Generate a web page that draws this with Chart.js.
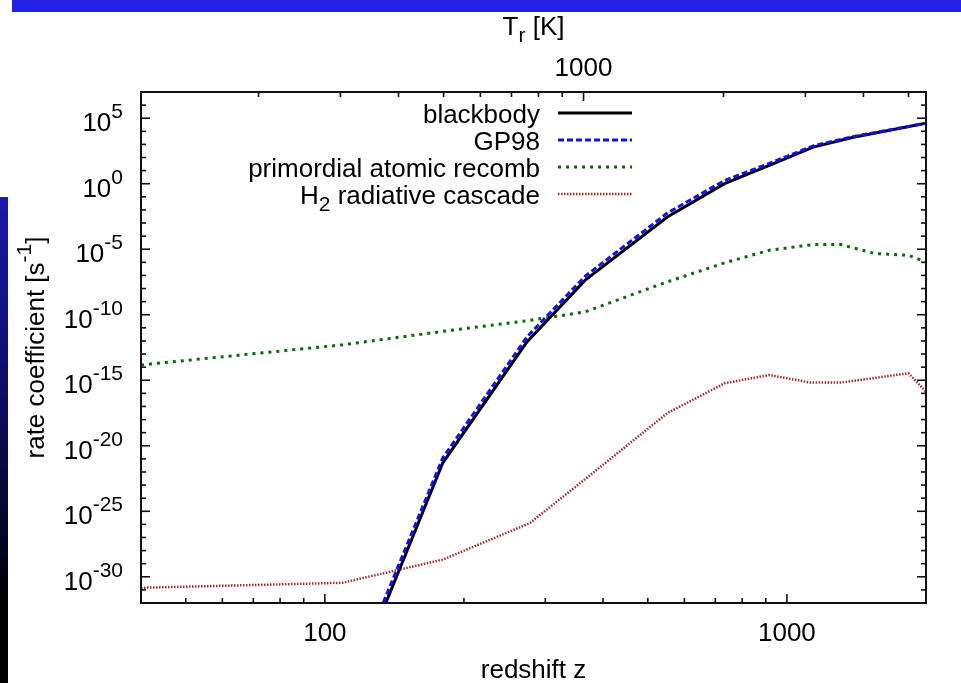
<!DOCTYPE html>
<html>
<head>
<meta charset="utf-8">
<script src="https://cdn.jsdelivr.net/npm/chart.js@4.4.1/dist/chart.umd.min.js"></script>
<style>
  html, body { margin:0; padding:0; background:#fff; }
  #wrap { position:relative; width:961px; height:683px; overflow:hidden; }
  canvas { position:absolute; left:0; top:0; }
  #topbar { position:absolute; left:12px; top:0; width:949px; height:12px; background:#2222e4; }
  #sidebar { position:absolute; left:0; top:197px; width:8px; height:486px;
             background:linear-gradient(#1a1aa6, #0c0c5a 45%, #000 85%); }
</style>
</head>
<body>
<div id="wrap">
  <canvas id="chart" width="961" height="683"></canvas>
  <div id="topbar"></div>
  <div id="sidebar"></div>
</div>
<script>
// ---- values: redshift z and log10(rate coefficient / s^-1) ----
const zBB   = [109, 180, 274, 366, 551, 733, 916, 1140, 1393, 2000];
const logBB = [-40.2, -21.3, -12.06, -7.36, -2.54, 0.0, 1.4, 2.79, 3.55, 4.62];
const logGP = [-39.6, -20.92, -11.68, -7.06, -2.24, 0.25, 1.55, 2.89, 3.6, 4.62];

const zAt   = [40, 109, 180, 274, 366, 551, 733, 916, 1140, 1306, 1550, 1833, 2000];
const logAt = [-13.83, -12.3, -11.27, -10.46, -9.78, -7.49, -6.04, -5.08, -4.64, -4.64, -5.33, -5.46, -5.97];

const zH2   = [40, 109, 180, 278, 366, 551, 733, 916, 1125, 1306, 1833, 2000];
const logH2 = [-30.84, -30.46, -28.69, -25.89, -22.54, -17.51, -15.23, -14.6, -15.18, -15.18, -14.47, -15.87];

const seriesLabels = ["blackbody", "GP98", "primordial atomic recomb", "H_{2} radiative cascade"];
const xTickLabels = [100, 1000];          // redshift z
const tTickLabels = [1000];               // T_r [K] (top axis)
const yTickExps = [5, 0, -5, -10, -15, -20, -25, -30];
const T0 = 2.725;                         // T_r = T0 (1+z)

const FONT = '"Liberation Sans", Arial, Helvetica, sans-serif';
const FS = 26;
const pts = (zs, logs) => zs.map((z, i) => ({ x: z, y: Math.pow(10, logs[i]) }));

// text with _{sub} and ^{sup}
function parts(str) {
  const out = [], re = /([_^])\{([^}]*)\}/g;
  let last = 0, m;
  while ((m = re.exec(str))) {
    if (m.index > last) out.push({ t: str.slice(last, m.index), m: 0 });
    out.push({ t: m[2], m: m[1] === '_' ? -1 : 1 });
    last = re.lastIndex;
  }
  if (last < str.length) out.push({ t: str.slice(last), m: 0 });
  return out;
}
function drawRich(ctx, str, x, y, align, size) {
  const small = Math.round(size * 0.8);
  const ps = parts(str);
  let w = 0;
  ps.forEach(p => { ctx.font = (p.m ? small : size) + 'px ' + FONT; p.w = ctx.measureText(p.t).width; w += p.w; });
  let cx = align === 'right' ? x - w : align === 'center' ? x - w / 2 : x;
  ctx.textAlign = 'left';
  ctx.textBaseline = 'alphabetic';
  ps.forEach(p => {
    ctx.font = (p.m ? small : size) + 'px ' + FONT;
    const dy = p.m === 1 ? -size * 0.5 : p.m === -1 ? size * 0.26 : 0;
    ctx.fillText(p.t, cx, y + dy);
    cx += p.w;
  });
}

const framePlugin = {
  id: 'frame',
  afterDraw(chart) {
    const { ctx, chartArea: a, scales } = chart;
    const x = scales.x, y = scales.y, t = scales.t;
    ctx.save();
    ctx.strokeStyle = '#111';
    ctx.fillStyle = '#000';
    ctx.lineWidth = 1.6;
    const tick = (x1, y1, x2, y2) => { ctx.beginPath(); ctx.moveTo(x1, y1); ctx.lineTo(x2, y2); ctx.stroke(); };

    // y ticks: every decade, big every 5
    for (let e = Math.ceil(Math.log10(y.min)); e <= Math.floor(Math.log10(y.max)); e++) {
      const py = y.getPixelForValue(Math.pow(10, e));
      const L = e % 5 === 0 ? 9 : 5;
      tick(a.left, py, a.left + L, py);
      tick(a.right, py, a.right - L, py);
    }
    // log ticks on bottom (z) and top (T) axes
    const logTicks = (sc, yEdge, dir) => {
      for (let k = Math.floor(Math.log10(sc.min)); k <= Math.ceil(Math.log10(sc.max)); k++) {
        for (let m = 1; m <= 9; m++) {
          const v = m * Math.pow(10, k);
          if (v <= sc.min * 1.001 || v >= sc.max * 0.999) continue;
          const px = sc.getPixelForValue(v);
          tick(px, yEdge, px, yEdge + dir * (m === 1 ? 9 : 5));
        }
      }
    };
    logTicks(x, a.bottom, -1);
    logTicks(t, a.top, 1);

    ctx.lineWidth = 2;
    ctx.strokeRect(a.left, a.top, a.right - a.left, a.bottom - a.top);

    // tick labels
    yTickExps.forEach(e => {
      const py = y.getPixelForValue(Math.pow(10, e));
      drawRich(ctx, '10^{' + e + '}', a.left - 18, py + 13, 'right', FS);
    });
    xTickLabels.forEach(v => drawRich(ctx, String(v), x.getPixelForValue(v), a.bottom + 38, 'center', FS));
    tTickLabels.forEach(v => drawRich(ctx, String(v), t.getPixelForValue(v), a.top - 16, 'center', FS));

    // axis titles
    const cxm = (a.left + a.right) / 2;
    drawRich(ctx, 'redshift z', cxm, a.bottom + 75, 'center', FS);
    drawRich(ctx, 'T_{r} [K]', cxm, a.top - 57, 'center', FS);
    ctx.save();
    ctx.translate(a.left - 97, (a.top + a.bottom) / 2);
    ctx.rotate(-Math.PI / 2);
    drawRich(ctx, 'rate coefficient [s^{-1}]', 0, 0, 'center', FS);
    ctx.restore();

    // key (top right inside the frame)
    chart.data.datasets.forEach((ds, i) => {
      const ly = a.top + 21 + i * 27;
      drawRich(ctx, ds.label, a.right - 386, ly + 10, 'right', FS);
      ctx.save();
      ctx.strokeStyle = ds.borderColor;
      ctx.lineWidth = ds.borderWidth;
      ctx.setLineDash(ds.borderDash || []);
      tick(a.right - 368, ly, a.right - 294, ly);
      ctx.restore();
    });
    ctx.restore();
  }
};

new Chart(document.getElementById('chart'), {
  type: 'line',
  data: {
    datasets: [
      { label: seriesLabels[0], data: pts(zBB, logBB), borderColor: '#000', borderWidth: 3, order: 1 },
      { label: seriesLabels[1], data: pts(zBB, logGP), borderColor: '#1010f0', borderWidth: 3, borderDash: [6, 3], order: 0 },
      { label: seriesLabels[2], data: pts(zAt, logAt), borderColor: '#0a6a0a', borderWidth: 3, borderDash: [3, 5], order: 2 },
      { label: seriesLabels[3], data: pts(zH2, logH2), borderColor: '#a82828', borderWidth: 2.5, borderDash: [1.5, 1.5], order: 3 }
    ]
  },
  options: {
    responsive: false,
    animation: false,
    events: [],
    clip: 0,
    layout: { padding: { left: 141, right: 35, top: 92, bottom: 80 } },
    elements: { point: { radius: 0 }, line: { tension: 0, borderCapStyle: 'butt' } },
    plugins: { legend: { display: false }, tooltip: { enabled: false } },
    scales: {
      x: { type: 'logarithmic', min: 40, max: 2000, display: false },
      t: { type: 'logarithmic', axis: 'x', position: 'top', min: T0 * 41, max: T0 * 2001, display: false },
      y: { type: 'logarithmic', min: 1e-32, max: 1e7, display: false }
    }
  },
  plugins: [framePlugin]
});
</script>
</body>
</html>
